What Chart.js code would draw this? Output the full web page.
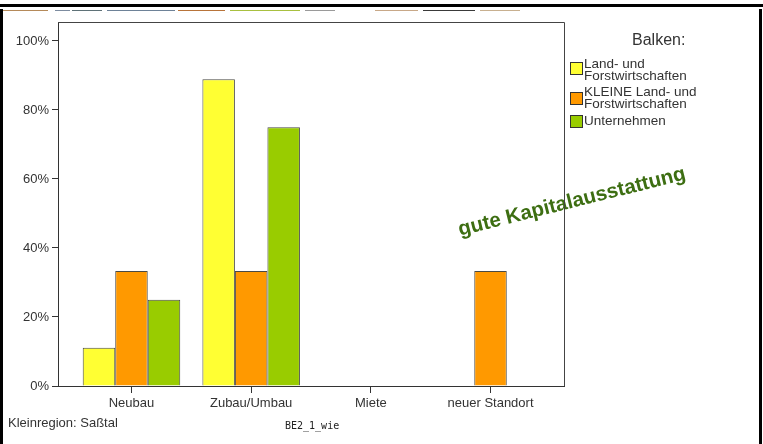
<!DOCTYPE html>
<html>
<head>
<meta charset="utf-8">
<script src="https://cdn.jsdelivr.net/npm/chart.js@4"></script>
<style>
  html, body { margin: 0; padding: 0; background: #fff; }
  #wrap { width: 763px; height: 444px; }
</style>
</head>
<body>
<div id="wrap"><canvas id="chart" width="763" height="444"></canvas></div>
<script>
// categories and values (percent of respondents)
const categories = ['Neubau', 'Zubau/Umbau', 'Miete', 'neuer Standort'];
const landForst = [11.1, 88.9, 0, 0];
const kleineLandForst = [33.3, 33.3, 0, 33.3];
const unternehmen = [25, 75, 0, 0];
const seriesNames = [
  ['Land- und', 'Forstwirtschaften'],
  ['KLEINE Land- und', 'Forstwirtschaften'],
  ['Unternehmen']
];
const seriesColors = ['#ffff33', '#ff9900', '#99cc00'];
const yTicks = [0, 20, 40, 60, 80, 100];

const legendTitle = 'Balken:';
const annotationText = 'gute Kapitalausstattung';
const footLeft = 'Kleinregion: Saßtal';
const footMid = 'BE2_1_wie';

const FONT = '"Liberation Sans", Arial, sans-serif';
const TEXT = '#333333';

const toPoints = arr => arr.map((v, i) => ({ x: i, y: v }));

const datasets = [landForst, kleineLandForst, unternehmen].map((arr, i) => ({
  label: seriesNames[i].join(' '),
  data: toPoints(arr),
  backgroundColor: seriesColors[i],
  borderColor: '#4a4a44',
  borderWidth: 1,
  borderSkipped: 'start',
  barPercentage: 1,
  categoryPercentage: 0.815
}));

// legend, notes, frame and outer border drawn on the canvas
const extras = {
  id: 'extras',
  afterDraw(chart) {
    const ctx = chart.ctx;
    const a = chart.chartArea;
    ctx.save();

    // rotated note
    ctx.translate(572, 202);
    ctx.rotate(-14 * Math.PI / 180);
    ctx.font = 'bold 20.5px ' + FONT;
    ctx.fillStyle = '#3d6e12';
    ctx.textAlign = 'center';
    ctx.textBaseline = 'middle';
    ctx.fillText(annotationText, 0, 0);
    ctx.setTransform(1, 0, 0, 1, 0, 0);

    // top and right edge of the plot frame
    ctx.strokeStyle = '#444444';
    ctx.lineWidth = 1;
    ctx.beginPath();
    ctx.moveTo(a.left, a.top + 0.5);
    ctx.lineTo(a.right + 0.5, a.top + 0.5);
    ctx.lineTo(a.right + 0.5, a.bottom);
    ctx.stroke();

    // legend
    ctx.fillStyle = TEXT;
    ctx.font = '16px ' + FONT;
    ctx.textAlign = 'left';
    ctx.textBaseline = 'middle';
    ctx.fillText(legendTitle, 632, 41);

    const boxTop = [63, 93, 116];
    const lineY = [[64, 76], [92, 104], [121]];
    ctx.font = '13.5px ' + FONT;
    seriesNames.forEach((lines, i) => {
      ctx.fillStyle = seriesColors[i];
      ctx.fillRect(571, boxTop[i], 11, 11);
      ctx.strokeStyle = '#333333';
      ctx.strokeRect(570.5, boxTop[i] - 0.5, 12, 12);
      ctx.fillStyle = TEXT;
      lines.forEach((t, j) => ctx.fillText(t, 584, lineY[i][j]));
    });

    // footer texts
    ctx.font = '13px ' + FONT;
    ctx.fillText(footLeft, 8, 423);
    ctx.font = '10px "DejaVu Sans Mono", monospace';
    ctx.fillStyle = '#222222';
    ctx.fillText(footMid, 285, 426);

    // outer screenshot border
    ctx.fillStyle = '#000000';
    ctx.fillRect(0, 4, 763, 3);
    ctx.fillRect(0, 9, 3, 435);
    ctx.fillRect(759, 9, 3, 435);
    const strip = [
      [3, 45, '#b58a5a'], [55, 15, '#7d8ca0'], [72, 30, '#5f7278'], [107, 68, '#6e8298'],
      [178, 47, '#b8743a'], [230, 70, '#a8c040'], [305, 30, '#9a9a9a'], [375, 43, '#c8a888'],
      [423, 52, '#3a3a3a'], [480, 40, '#c8b090']
    ];
    strip.forEach(([x, w, c]) => { ctx.fillStyle = c; ctx.fillRect(x, 10, w, 1); });
    ctx.restore();
  }
};

new Chart(document.getElementById('chart'), {
  type: 'bar',
  data: { datasets },
  options: {
    responsive: false,
    animation: false,
    events: [],
    layout: { padding: { left: 0, top: 22, right: 199, bottom: 0 } },
    plugins: { legend: { display: false }, tooltip: { enabled: false } },
    scales: {
      x: {
        type: 'linear',
        min: -0.614,
        max: 3.614,
        offset: false,
        afterFit: s => { s.height = 58; },
        afterBuildTicks: s => { s.ticks = categories.map((c, i) => ({ value: i })); },
        grid: { offset: false, drawOnChartArea: false, drawTicks: true, tickLength: 7, color: '#333333' },
        border: { display: true, color: '#333333', width: 1 },
        ticks: {
          autoSkip: false,
          maxRotation: 0,
          padding: 3,
          color: TEXT,
          font: { family: FONT, size: 13 },
          callback: v => categories[v]
        }
      },
      y: {
        min: 0,
        max: 105.5,
        afterFit: s => { s.width = 58; },
        afterBuildTicks: s => { s.ticks = yTicks.map(v => ({ value: v })); },
        grid: { drawOnChartArea: false, drawTicks: true, tickLength: 6, color: '#333333' },
        border: { display: true, color: '#333333', width: 1 },
        ticks: {
          padding: 3,
          color: TEXT,
          font: { family: FONT, size: 13 },
          callback: v => v + '%'
        }
      }
    }
  },
  plugins: [extras]
});
</script>
</body>
</html>
